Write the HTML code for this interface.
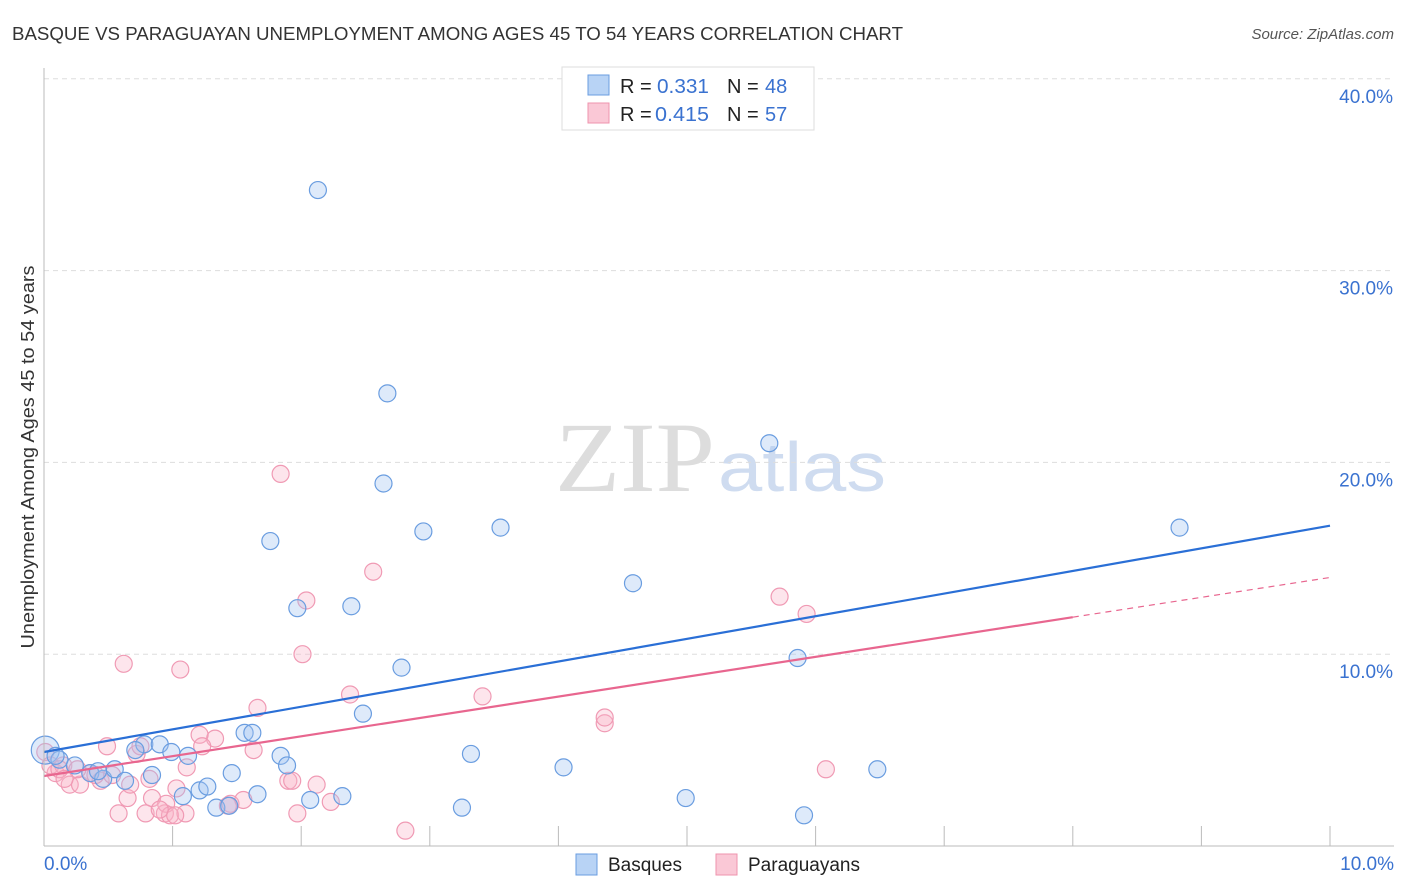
<!DOCTYPE html>
<html><head><meta charset="utf-8"><style>
body{margin:0;background:#fff;font-family:"Liberation Sans",sans-serif;}
svg{display:block}
</style></head><body>
<svg id="c" width="1406" height="892">
<text x="12" y="40" font-size="18" fill="#333" textLength="891" lengthAdjust="spacingAndGlyphs">BASQUE VS PARAGUAYAN UNEMPLOYMENT AMONG AGES 45 TO 54 YEARS CORRELATION CHART</text>
<text x="1394" y="39" font-size="15" fill="#555" font-style="italic" text-anchor="end">Source: ZipAtlas.com</text>
<text x="555" y="491" font-size="100" fill="#ddd" font-family="Liberation Serif,serif" textLength="160" lengthAdjust="spacingAndGlyphs">ZIP</text>
<text x="718" y="491" font-size="70" fill="#cfdcf0" textLength="168" lengthAdjust="spacingAndGlyphs">atlas</text>
<text transform="translate(34,457) rotate(-90)" font-size="18" fill="#333" text-anchor="middle" textLength="383" lengthAdjust="spacingAndGlyphs">Unemployment Among Ages 45 to 54 years</text>
<g id="grid"></g><g id="pts"></g><g id="lines"></g>
<line x1="44" y1="68" x2="44" y2="846" stroke="#bbb"/>
<line x1="44" y1="846" x2="1394" y2="846" stroke="#bbb"/>
<text x="44" y="870" font-size="19" fill="#3a72d0">0.0%</text>
<text x="1394" y="870" font-size="19" fill="#3a72d0" text-anchor="end">10.0%</text>
<g>
<rect x="562" y="67" width="252" height="63" fill="#fff" stroke="#ddd"/>
<rect x="588" y="75" width="21" height="20" fill="#b8d3f5" stroke="#6a9de0"/>
<rect x="588" y="103" width="21" height="20" fill="#fac8d6" stroke="#ef93ad"/>
<text x="620" y="93" font-size="20" fill="#222">R =<tspan x="657" fill="#3a72d0" textLength="52" lengthAdjust="spacingAndGlyphs">0.331</tspan><tspan x="727">N = </tspan><tspan x="765" fill="#3a72d0">48</tspan></text>
<text x="620" y="121" font-size="20" fill="#222">R =<tspan x="655" fill="#3a72d0" textLength="54" lengthAdjust="spacingAndGlyphs">0.415</tspan><tspan x="727">N = </tspan><tspan x="765" fill="#3a72d0">57</tspan></text>
</g>
<g>
<rect x="576" y="854" width="21" height="21" fill="#b8d3f5" stroke="#6a9de0"/>
<text x="608" y="871" font-size="19" fill="#222">Basques</text>
<rect x="716" y="854" width="21" height="21" fill="#fac8d6" stroke="#ef93ad"/>
<text x="748" y="871" font-size="19" fill="#222">Paraguayans</text>
</g>
</svg>
<script>
const yTicks=[10,20,30,40];
const yTickLabels=["10.0%","20.0%","30.0%","40.0%"];
const xTicks=[0,1,2,3,4,5,6,7,8,9,10];
const basqueX=[2.13,2.67,2.64,1.76,2.95,3.55,1.97,2.39,2.78,2.48,4.58,5.64,8.83,5.86,3.32,4.04,4.99,5.91,6.48,3.25,0.01,0.12,0.24,0.36,0.46,0.55,0.63,0.78,0.84,0.90,0.99,1.12,1.08,1.21,1.27,1.34,1.46,1.44,1.56,1.62,1.66,1.84,1.89,2.07,2.32,0.09,0.71,0.42];
const basqueY=[34.2,23.6,18.9,15.9,16.4,16.6,12.4,12.5,9.3,6.9,13.7,21.0,16.6,9.8,4.8,4.1,2.5,1.6,4.0,2.0,5.0,4.5,4.2,3.8,3.5,4.0,3.4,5.3,3.7,5.3,4.9,4.7,2.6,2.9,3.1,2.0,3.8,2.1,5.9,5.9,2.7,4.7,4.2,2.4,2.6,4.7,5.0,3.9];
const paraX=[1.84,2.56,2.04,5.72,5.93,2.01,0.62,1.06,2.38,3.41,1.66,4.36,4.36,1.33,1.21,0.49,0.72,1.11,1.23,1.63,6.08,2.81,0.01,0.09,0.20,0.28,0.36,0.44,0.58,0.65,0.67,0.82,0.84,0.79,0.94,0.95,0.98,1.03,1.10,1.45,1.55,1.90,1.93,1.97,2.12,2.23,0.05,0.15,0.26,0.40,0.53,0.12,0.16,0.75,1.02,1.43,0.90];
const paraY=[19.4,14.3,12.8,13.0,12.1,10.0,9.5,9.2,7.9,7.8,7.2,6.4,6.7,5.6,5.8,5.2,4.8,4.1,5.2,5.0,4.0,0.8,4.9,3.8,3.2,3.2,3.8,3.4,1.7,2.5,3.2,3.5,2.5,1.7,1.7,2.2,1.6,3.0,1.7,2.2,2.4,3.4,3.4,1.7,3.2,2.3,4.2,4.2,4.0,3.7,3.7,4.0,3.5,5.2,1.6,2.1,1.9];
const basqueLine=[4.9,16.7];
const paraLine=[3.65,14.0];
const paraSolidEnd=8;
const X=v=>44+v*128.6, Y=v=>846-v*19.18;
const NS="http://www.w3.org/2000/svg";
function mk(t,a,p){const e=document.createElementNS(NS,t);for(const k in a)e.setAttribute(k,a[k]);p.appendChild(e);return e;}
const g=document.getElementById('grid');
yTicks.forEach((v,i)=>{
 const l=mk('line',{x1:44,x2:1394,y1:Y(v),y2:Y(v),stroke:'#ddd','stroke-dasharray':'5,4'},g);
 
 
 const t=mk('text',{x:1393,y:Y(v)+24,'font-size':19,fill:'#3a72d0','text-anchor':'end'},g);
 t.textContent=yTickLabels[i];
 
 
});
xTicks.forEach(v=>{
 const l=mk('line',{x1:X(v),x2:X(v),y1:826,y2:846,stroke:'#bbb'},g);
 
 
});
const p=document.getElementById('pts');
paraX.forEach((x,i)=>{
 const c=mk('circle',{cx:X(x),cy:Y(paraY[i]),r:8.5,fill:'rgba(248,180,200,0.35)',stroke:'#f09ab4','stroke-width':1.2},p);
 
 
});
basqueX.forEach((x,i)=>{
 const c=mk('circle',{cx:X(x),cy:Y(basqueY[i]),r:i==20?14:8.5,fill:'rgba(160,195,240,0.35)',stroke:'#6a9de0','stroke-width':1.2},p);
 
 
});
const L=document.getElementById('lines');
const bl=mk('line',{x1:X(0),y1:Y(basqueLine[0]),x2:X(10),y2:Y(basqueLine[1]),stroke:'#2a6fd6','stroke-width':2.2},L);


const pm=paraLine[0]+(paraLine[1]-paraLine[0])*paraSolidEnd/10;
const pl=mk('line',{x1:X(0),y1:Y(paraLine[0]),x2:X(paraSolidEnd),y2:Y(pm),stroke:'#e8668f','stroke-width':2.2},L);


const pd=mk('line',{x1:X(paraSolidEnd),y1:Y(pm),x2:X(10),y2:Y(paraLine[1]),stroke:'#e8668f','stroke-width':1.2,'stroke-dasharray':'6,5'},L);


</script>
</body></html>
